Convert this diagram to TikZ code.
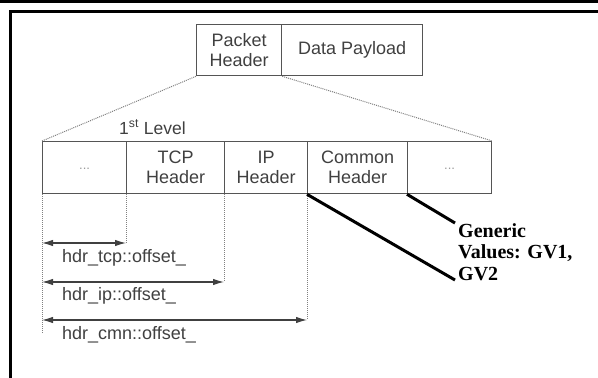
\documentclass[tikz,border=0pt]{standalone}
\usepackage{fontspec}
\usetikzlibrary{arrows.meta}
\newfontfamily\diagfont{Liberation Sans}
\newfontfamily\notefont{Liberation Serif}
\definecolor{boxgray}{HTML}{555555}
\definecolor{txtgray}{HTML}{404040}
\definecolor{dotgray}{HTML}{808080}
\definecolor{ellgray}{HTML}{9A9A9A}
\begin{document}
\begin{tikzpicture}[x=1pt,y=-1pt,
  cell/.style={draw=boxgray, line width=1.3pt, inner sep=0pt, anchor=north west,
    align=center, text=txtgray, font=\diagfont\fontsize{18}{20}\selectfont},
  guide/.style={draw=dotgray, line width=1pt, dash pattern=on 1pt off 1pt},
  span/.style={draw=black!75, line width=1.1pt, {Latex[length=11pt,width=6.5pt]}-{Latex[length=11pt,width=6.5pt]}},
  offlabel/.style={anchor=base west, inner sep=0pt, text=txtgray, font=\diagfont\fontsize{18}{20}\selectfont},
  callout/.style={line width=3pt, black}]
\useasboundingbox (0,0) rectangle (598,378);
% page frame
\fill[black] (0,0) rectangle (598,2.6);
\draw[line width=3pt, black] (598,11) -- (10.8,11) -- (10.8,378);

% packet
\node[cell, minimum width=85pt, minimum height=51pt] (ph) at (196,24) {Packet\\Header};
\node[cell, minimum width=141pt, minimum height=51pt] (dp) at (281,24) {Data Payload};

% first level headers
\node[cell, minimum width=84pt, minimum height=52pt, text=ellgray,
  font=\diagfont\fontsize{13}{13}\selectfont] (c1) at (42,141) {\raisebox{-3pt}{...}};
\node[cell, minimum width=98pt, minimum height=52pt] (c2) at (126,141) {TCP\\Header};
\node[cell, minimum width=83pt, minimum height=52pt] (c3) at (224,141) {IP\\Header};
\node[cell, minimum width=100pt, minimum height=52pt] (c4) at (307,141) {Common\\Header};
\node[cell, minimum width=84pt, minimum height=52pt, text=ellgray,
  font=\diagfont\fontsize{13}{13}\selectfont] (c5) at (407,141) {\raisebox{-3pt}{...}};
\node[anchor=base west, inner sep=0pt, text=txtgray, font=\diagfont\fontsize{17.5}{20}\selectfont]
  (lvl) at (119,134) {1\textsuperscript{st} Level};

% expansion of the packet header
\draw[guide] (ph.south west) -- (c1.north west);
\draw[guide] (ph.south east) -- (c5.north east);

% offset spans
\coordinate (base) at (42,333);
\coordinate (tcpL) at (42,243);  \coordinate (tcpR) at (126,243);
\coordinate (ipL)  at (42,282);  \coordinate (ipR)  at (224,282);
\coordinate (cmnL) at (42,320);  \coordinate (cmnR) at (307,320);
\draw[guide] (c1.south west) -- (base);
\draw[guide] (c2.south west) -- (tcpR);
\draw[guide] (c3.south west) -- (ipR);
\draw[guide] (c4.south west) -- (cmnR);
\draw[span] (tcpL) -- (tcpR);
\draw[span] (ipL) -- (ipR);
\draw[span] (cmnL) -- (cmnR);
\node[offlabel] (otcp) at (62,262) {hdr\_tcp::offset\_};
\node[offlabel] (oip)  at (62,300.5) {hdr\_ip::offset\_};
\node[offlabel] (ocmn) at (62,339) {hdr\_cmn::offset\_};

% generic values note
\node[anchor=north west, inner sep=0pt, align=left,
  font=\notefont\bfseries\fontsize{20}{21.6}\selectfont] (gv) at (458,223)
  {Generic\\Values: GV1,\\GV2};
\coordinate (gvtop) at (455,223);
\coordinate (gvbot) at (455,280);
\draw[callout] (c5.south west) -- (gvtop);
\draw[callout] (c4.south west) -- (gvbot);
\end{tikzpicture}
\end{document}
